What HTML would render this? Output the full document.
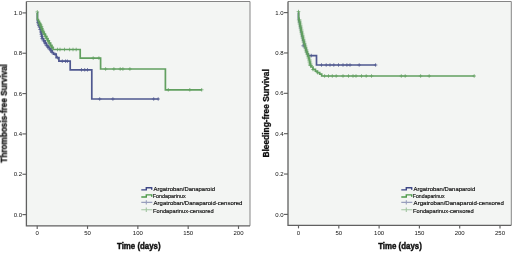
<!DOCTYPE html>
<html><head><meta charset="utf-8"><style>
html,body{margin:0;padding:0;background:#fff;width:520px;height:253px;overflow:hidden}
svg{display:block}
text{font-family:"Liberation Sans",sans-serif;fill:#111111}
.lg{stroke:#111111;stroke-width:0.18px}
.tk{font-size:6px}
.lg{font-size:6.17px}
.ti{font-size:9px;font-weight:bold;stroke:#111111;stroke-width:0.45px}
.ty{font-size:8.25px;font-weight:bold;stroke:#111111;stroke-width:0.3px}
.ty2{font-size:8.45px;font-weight:bold;stroke:#111111;stroke-width:0.3px}
</style></head><body>
<svg width="520" height="253" viewBox="0 0 520 253">
<defs><filter id="bl" x="0" y="0" width="100%" height="100%" filterUnits="userSpaceOnUse"><feGaussianBlur stdDeviation="0.5"/></filter></defs>
<g filter="url(#bl)">
<rect width="520" height="253" fill="#fff"/>
<rect x="26.4" y="1.5" width="223.6" height="224.3" fill="#f3f5f3"/>
<path d="M26.4,1.5 H250 V225.8" fill="none" stroke="#858585" stroke-width="1"/>
<path d="M26.4,1.5 V225.8 H250" fill="none" stroke="#606060" stroke-width="1.3"/>
<path d="M22.4,214.6 H26.4" stroke="#606060" stroke-width="1.15"/>
<text x="22" y="216.75" text-anchor="end" class="tk">0.0</text>
<path d="M22.4,174.26 H26.4" stroke="#606060" stroke-width="1.15"/>
<text x="22" y="176.41" text-anchor="end" class="tk">0.2</text>
<path d="M22.4,133.92 H26.4" stroke="#606060" stroke-width="1.15"/>
<text x="22" y="136.07" text-anchor="end" class="tk">0.4</text>
<path d="M22.4,93.58 H26.4" stroke="#606060" stroke-width="1.15"/>
<text x="22" y="95.73" text-anchor="end" class="tk">0.6</text>
<path d="M22.4,53.24 H26.4" stroke="#606060" stroke-width="1.15"/>
<text x="22" y="55.39" text-anchor="end" class="tk">0.8</text>
<path d="M22.4,12.9 H26.4" stroke="#606060" stroke-width="1.15"/>
<text x="22" y="15.05" text-anchor="end" class="tk">1.0</text>
<path d="M37.2,225.8 V228.9" stroke="#606060" stroke-width="1.15"/>
<text x="37.2" y="235.2" text-anchor="middle" class="tk">0</text>
<path d="M87.53,225.8 V228.9" stroke="#606060" stroke-width="1.15"/>
<text x="87.53" y="235.2" text-anchor="middle" class="tk">50</text>
<path d="M137.85,225.8 V228.9" stroke="#606060" stroke-width="1.15"/>
<text x="137.85" y="235.2" text-anchor="middle" class="tk">100</text>
<path d="M188.18,225.8 V228.9" stroke="#606060" stroke-width="1.15"/>
<text x="188.18" y="235.2" text-anchor="middle" class="tk">150</text>
<path d="M238.5,225.8 V228.9" stroke="#606060" stroke-width="1.15"/>
<text x="238.5" y="235.2" text-anchor="middle" class="tk">200</text>
<text x="117" y="249.0" class="ti" textLength="43.6" lengthAdjust="spacingAndGlyphs">Time (days)</text>
<text transform="translate(6.8,113.4) rotate(-90)" x="-49.3" y="0" class="ty" textLength="98.6" lengthAdjust="spacingAndGlyphs">Thrombosis-free Survival</text>
<path d="M37.3,12.9 37.4,12.9 37.4,20.5 38,20.5 38,22.25 38.6,22.25 38.6,24 39.1,24 39.1,25.5 39.6,25.5 39.6,27 40.3,27 40.3,29.5 41,29.5 41,32 41.43,32 41.43,34.2 41.87,34.2 41.87,36.4 42.3,36.4 42.3,38.6 43.7,38.6 43.7,40.83 45.1,40.83 45.1,43.07 46.5,43.07 46.5,45.3 48,45.3 48,47.13 49.5,47.13 49.5,48.97 51,48.97 51,50.8 52.25,50.8 52.25,52.5 53.5,52.5 53.5,54.2 56.2,54.2 56.2,57.6 58.9,57.6 58.9,61.2 70.2,61.2 70.2,69.8 91.8,69.8 91.8,99 158.7,99 158.7,99" fill="none" stroke="#4f5890" stroke-width="1.7" stroke-linejoin="miter"/>
<path d="M37.8,20.45V24.05M36,22.25H39.6M38.4,22.2V25.8M36.6,24H40.2M38.9,23.7V27.3M37.1,25.5H40.7M39.4,25.2V28.8M37.6,27H41.2M40.1,27.7V31.3M38.3,29.5H41.9M40.8,30.2V33.8M39,32H42.6M41.23,32.4V36M39.43,34.2H43.03M41.67,34.6V38.2M39.87,36.4H43.47M42.1,36.8V40.4M40.3,38.6H43.9M43.5,39.03V42.63M41.7,40.83H45.3M44.9,41.27V44.87M43.1,43.07H46.7M46.3,43.5V47.1M44.5,45.3H48.1M47.8,45.33V48.93M46,47.13H49.6M49.3,47.17V50.77M47.5,48.97H51.1M50.8,49V52.6M49,50.8H52.6M52.05,50.7V54.3M50.25,52.5H53.85M55,52.4V56M53.2,54.2H56.8M57.5,55.8V59.4M55.7,57.6H59.3M62.3,59.4V63M60.5,61.2H64.1M65.5,59.4V63M63.7,61.2H67.3M67.4,59.4V63M65.6,61.2H69.2M81.5,68V71.6M79.7,69.8H83.3M84.7,68V71.6M82.9,69.8H86.5M87.5,68V71.6M85.7,69.8H89.3M99.7,97.2V100.8M97.9,99H101.5M112.9,97.2V100.8M111.1,99H114.7M153.7,97.2V100.8M151.9,99H155.5M158.2,97.2V100.8M156.4,99H160" fill="none" stroke="#4f5890" stroke-width="0.85" opacity="0.85"/>
<path d="M37.3,12.9 37.4,12.9 37.4,19.5 38.4,19.5 38.4,21.4 39.4,21.4 39.4,23.3 40.1,23.3 40.1,24.95 40.8,24.95 40.8,26.6 41.47,26.6 41.47,28.4 42.13,28.4 42.13,30.2 42.8,30.2 42.8,32 44.03,32 44.03,34.2 45.27,34.2 45.27,36.4 46.5,36.4 46.5,38.6 47.8,38.6 47.8,40.83 49.1,40.83 49.1,43.07 50.4,43.07 50.4,45.3 51.7,45.3 51.7,47.4 53,47.4 53,49.5 80.2,49.5 80.2,58.1 100.6,58.1 100.6,69 165.4,69 165.4,89.8 201.9,89.8 201.9,89.8" fill="none" stroke="#62a060" stroke-width="1.7" stroke-linejoin="miter"/>
<path d="M37.3,10.1V13.7M35.5,11.9H39.1M39.7,21.5V25.1M37.5,23.3H41.9M40.4,23.15V26.75M38.2,24.95H42.6M41.1,24.8V28.4M38.9,26.6H43.3M41.77,26.6V30.2M39.57,28.4H43.97M42.43,28.4V32M40.23,30.2H44.63M43.1,30.2V33.8M40.9,32H45.3M44.33,32.4V36M42.13,34.2H46.53M45.57,34.6V38.2M43.37,36.4H47.77M46.8,36.8V40.4M44.6,38.6H49M48.1,39.03V42.63M45.9,40.83H50.3M49.4,41.27V44.87M47.2,43.07H51.6M50.7,43.5V47.1M48.5,45.3H52.9M52,45.6V49.2M49.8,47.4H54.2M57.5,47.7V51.3M55.7,49.5H59.3M60,47.7V51.3M58.2,49.5H61.8M64.5,47.7V51.3M62.7,49.5H66.3M69.6,47.7V51.3M67.8,49.5H71.4M73,47.7V51.3M71.2,49.5H74.8M76.2,47.7V51.3M74.4,49.5H78M93.2,56.3V59.9M91.4,58.1H95M98.9,56.3V59.9M97.1,58.1H100.7M105.6,67.2V70.8M103.8,69H107.4M113.9,67.2V70.8M112.1,69H115.7M120.2,67.2V70.8M118.4,69H122M122.9,67.2V70.8M121.1,69H124.7M129.9,67.2V70.8M128.1,69H131.7M168.3,88V91.6M166.5,89.8H170.1M189.8,88V91.6M188,89.8H191.6M201.7,88V91.6M199.9,89.8H203.5" fill="none" stroke="#62a060" stroke-width="0.85" opacity="0.85"/>
<path d="M141.3,189.9 H146.3 V187.8 H151.7 V189.7" fill="none" stroke="#3c4686" stroke-width="1.4"/>
<text x="153.6" y="191.1" class="lg" textLength="61.4" lengthAdjust="spacingAndGlyphs">Argatroban/Danaparoid</text>
<path d="M141.3,197 H146.3 V194.9 H151.7 V196.8" fill="none" stroke="#4f9a4c" stroke-width="1.4"/>
<text x="152.8" y="198.2" class="lg" textLength="33.0" lengthAdjust="spacingAndGlyphs">Fondaparinux</text>
<path d="M141.3,202.4 H152.3 M146.3,200.2 V204.6" fill="none" stroke="#4f5890" stroke-width="1.1" opacity="0.55"/>
<text x="153.6" y="205.2" class="lg" textLength="88.8" lengthAdjust="spacingAndGlyphs">Argatroban/Danaparoid-censored</text>
<path d="M141.3,209.7 H152.3 M146.3,207.5 V211.9" fill="none" stroke="#62a060" stroke-width="1.1" opacity="0.55"/>
<text x="153" y="212.5" class="lg" textLength="60.6" lengthAdjust="spacingAndGlyphs">Fondaparinux-censored</text>
<rect x="288" y="1.5" width="223.3" height="223.8" fill="#f3f5f3"/>
<path d="M288,1.5 H511.3 V225.3" fill="none" stroke="#858585" stroke-width="1"/>
<path d="M288,1.5 V225.3 H511.3" fill="none" stroke="#606060" stroke-width="1.3"/>
<path d="M284,214.4 H288" stroke="#606060" stroke-width="1.15"/>
<text x="283.6" y="216.55" text-anchor="end" class="tk">0.0</text>
<path d="M284,174.04 H288" stroke="#606060" stroke-width="1.15"/>
<text x="283.6" y="176.19" text-anchor="end" class="tk">0.2</text>
<path d="M284,133.68 H288" stroke="#606060" stroke-width="1.15"/>
<text x="283.6" y="135.83" text-anchor="end" class="tk">0.4</text>
<path d="M284,93.32 H288" stroke="#606060" stroke-width="1.15"/>
<text x="283.6" y="95.47" text-anchor="end" class="tk">0.6</text>
<path d="M284,52.96 H288" stroke="#606060" stroke-width="1.15"/>
<text x="283.6" y="55.11" text-anchor="end" class="tk">0.8</text>
<path d="M284,12.6 H288" stroke="#606060" stroke-width="1.15"/>
<text x="283.6" y="14.75" text-anchor="end" class="tk">1.0</text>
<path d="M298.5,225.3 V228.4" stroke="#606060" stroke-width="1.15"/>
<text x="298.5" y="234.7" text-anchor="middle" class="tk">0</text>
<path d="M338.8,225.3 V228.4" stroke="#606060" stroke-width="1.15"/>
<text x="338.8" y="234.7" text-anchor="middle" class="tk">50</text>
<path d="M379.1,225.3 V228.4" stroke="#606060" stroke-width="1.15"/>
<text x="379.1" y="234.7" text-anchor="middle" class="tk">100</text>
<path d="M419.4,225.3 V228.4" stroke="#606060" stroke-width="1.15"/>
<text x="419.4" y="234.7" text-anchor="middle" class="tk">150</text>
<path d="M459.7,225.3 V228.4" stroke="#606060" stroke-width="1.15"/>
<text x="459.7" y="234.7" text-anchor="middle" class="tk">200</text>
<path d="M500,225.3 V228.4" stroke="#606060" stroke-width="1.15"/>
<text x="500" y="234.7" text-anchor="middle" class="tk">250</text>
<text x="378.2" y="249.0" class="ti" textLength="43.6" lengthAdjust="spacingAndGlyphs">Time (days)</text>
<text transform="translate(269,113.4) rotate(-90)" x="-44.15" y="0" class="ty2" textLength="88.3" lengthAdjust="spacingAndGlyphs">Bleeding-free Survival</text>
<path d="M298.5,12.6 298.5,12.6 298.5,19 298.85,19 298.85,20.5 299.2,20.5 299.2,22 299.58,22 299.58,24 299.96,24 299.96,26 300.34,26 300.34,28 300.72,28 300.72,30 301.1,30 301.1,32 301.55,32 301.55,34 302,34 302,36 302.45,36 302.45,38 302.9,38 302.9,40 303.47,40 303.47,42 304.03,42 304.03,44 304.6,44 304.6,46 305.2,46 305.2,48 305.8,48 305.8,50 306.4,50 306.4,52 307.2,52 307.2,53.8 308,53.8 308,55.6 316.5,55.6 316.5,65 376.2,65 376.2,65" fill="none" stroke="#4f5890" stroke-width="1.7" stroke-linejoin="miter"/>
<path d="M303.2,44V47.6M301.4,45.8H305M311.3,53.8V57.4M309.5,55.6H313.1M321.5,63.2V66.8M319.7,65H323.3M326.2,63.2V66.8M324.4,65H328M330,63.2V66.8M328.2,65H331.8M333.8,63.2V66.8M332,65H335.6M338.5,63.2V66.8M336.7,65H340.3M343,63.2V66.8M341.2,65H344.8M346.9,63.2V66.8M345.1,65H348.7M350,63.2V66.8M348.2,65H351.8M359.2,63.2V66.8M357.4,65H361M375.6,63.2V66.8M373.8,65H377.4" fill="none" stroke="#4f5890" stroke-width="0.85" opacity="0.85"/>
<path d="M298.5,12.6 298.6,12.6 298.6,18 299,18 299,20 299.4,20 299.4,22 299.8,22 299.8,24 300.2,24 300.2,26 300.6,26 300.6,28 301,28 301,30 301.4,30 301.4,32 301.85,32 301.85,34 302.3,34 302.3,36 302.75,36 302.75,38 303.2,38 303.2,40 303.73,40 303.73,42 304.27,42 304.27,44 304.8,44 304.8,46 305.37,46 305.37,48 305.93,48 305.93,50 306.5,50 306.5,52 307.25,52 307.25,54 308,54 308,56 308.6,56 308.6,58 309.2,58 309.2,60 309.6,60 309.6,62 310,62 310,64 310.5,64 310.5,65.5 311,65.5 311,67 313,67 313,69.3 315.4,69.3 315.4,71.2 317.5,71.2 317.5,72.6 319.7,72.6 319.7,74.2 321.7,74.2 321.7,76 474.4,76 474.4,76" fill="none" stroke="#62a060" stroke-width="1.7" stroke-linejoin="miter"/>
<path d="M298.5,9.8V13.4M296.7,11.6H300.3M299.2,18.2V21.8M296.9,20H301.5M299.6,20.2V23.8M297.3,22H301.9M300,22.2V25.8M297.7,24H302.3M300.4,24.2V27.8M298.1,26H302.7M300.8,26.2V29.8M298.5,28H303.1M301.2,28.2V31.8M298.9,30H303.5M301.6,30.2V33.8M299.3,32H303.9M302.05,32.2V35.8M299.75,34H304.35M302.5,34.2V37.8M300.2,36H304.8M302.95,36.2V39.8M300.65,38H305.25M303.4,38.2V41.8M301.1,40H305.7M303.93,40.2V43.8M301.63,42H306.23M304.47,42.2V45.8M302.17,44H306.77M305,44.2V47.8M302.7,46H307.3M305.57,46.2V49.8M303.27,48H307.87M306.13,48.2V51.8M303.83,50H308.43M306.7,50.2V53.8M304.4,52H309M307.45,52.2V55.8M305.15,54H309.75M308.2,54.2V57.8M305.9,56H310.5M308.8,56.2V59.8M306.5,58H311.1M309.4,58.2V61.8M307.1,60H311.7M309.8,60.2V63.8M307.5,62H312.1M310.2,62.2V65.8M307.9,64H312.5M310.7,63.7V67.3M308.4,65.5H313M313,67.7V71.3M311.2,69.5H314.8M317.5,70.8V74.4M315.7,72.6H319.3M324.6,74.2V77.8M322.8,76H326.4M328.5,74.2V77.8M326.7,76H330.3M332.3,74.2V77.8M330.5,76H334.1M336.2,74.2V77.8M334.4,76H338M343,74.2V77.8M341.2,76H344.8M348.5,74.2V77.8M346.7,76H350.3M353,74.2V77.8M351.2,76H354.8M356,74.2V77.8M354.2,76H357.8M361.5,74.2V77.8M359.7,76H363.3M366.2,74.2V77.8M364.4,76H368M371.5,74.2V77.8M369.7,76H373.3M401.3,74.2V77.8M399.5,76H403.1M405.2,74.2V77.8M403.4,76H407M420.6,74.2V77.8M418.8,76H422.4M429.2,74.2V77.8M427.4,76H431M474.2,74.2V77.8M472.4,76H476" fill="none" stroke="#62a060" stroke-width="0.85" opacity="0.85"/>
<path d="M401.3,189.9 H406.3 V187.8 H411.7 V189.7" fill="none" stroke="#3c4686" stroke-width="1.4"/>
<text x="413.6" y="191.1" class="lg" textLength="61.6" lengthAdjust="spacingAndGlyphs">Argatroban/Danaparoid</text>
<path d="M401.3,197 H406.3 V194.9 H411.7 V196.8" fill="none" stroke="#4f9a4c" stroke-width="1.4"/>
<text x="412.8" y="198.2" class="lg" textLength="31.8" lengthAdjust="spacingAndGlyphs">Fondaparinux</text>
<path d="M401.3,202.4 H412.3 M406.3,200.2 V204.6" fill="none" stroke="#4f5890" stroke-width="1.1" opacity="0.55"/>
<text x="413.6" y="205.2" class="lg" textLength="90.2" lengthAdjust="spacingAndGlyphs">Argatroban/Danaparoid-censored</text>
<path d="M401.3,209.7 H412.3 M406.3,207.5 V211.9" fill="none" stroke="#62a060" stroke-width="1.1" opacity="0.55"/>
<text x="413" y="212.5" class="lg" textLength="60.7" lengthAdjust="spacingAndGlyphs">Fondaparinux-censored</text>
</g>
</svg>
</body></html>
